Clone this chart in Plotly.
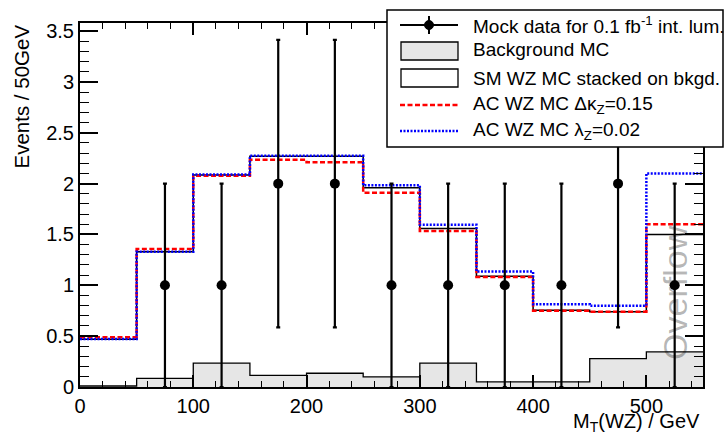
import math
import plotly.graph_objects as go

# Histogram binning in M_T(WZ) (GeV); the last bin holds the overflow
bin_edges = [0, 50, 100, 150, 200, 250, 300, 350, 400, 450, 500, 550]

# Events / 50 GeV per bin
background = [0.01, 0.085, 0.235, 0.115, 0.135, 0.10, 0.235, 0.05, 0.05, 0.28, 0.345]
sm_wz = [0.47, 1.33, 2.085, 2.27, 2.27, 1.96, 1.56, 1.09, 0.755, 0.74, 1.50]
ac_dkappa = [0.49, 1.357, 2.078, 2.235, 2.21, 1.91, 1.534, 1.082, 0.75, 0.74, 1.60]
ac_lambda = [0.472, 1.33, 2.09, 2.274, 2.274, 1.985, 1.595, 1.135, 0.815, 0.80, 2.10]
data_counts = [0, 1, 1, 2, 2, 1, 1, 1, 1, 2, 1]

x_ticks = [0, 100, 200, 300, 400, 500]
legend_labels = [
    "Mock data for 0.1 fb<sup>-1</sup> int. lum.",
    "Background MC",
    "SM WZ MC stacked on bkgd.",
    "AC WZ MC \u0394\u03ba<sub>Z</sub>=0.15",
    "AC WZ MC \u03bb<sub>Z</sub>=0.02",
]

W, H = 726, 434
L, R, T, B = 80, 23, 23, 47
X_MAX = 550
Y_MAX = 3.58
FONT = "Liberation Sans, Arial, Helvetica, sans-serif"


def px(x):
    """Pixel column -> paper x."""
    return (x - L) / (W - L - R)


def py(y):
    """Pixel row -> paper y."""
    return (H - B - y) / (H - T - B)


def step_y(vals):
    return list(vals) + [vals[-1]]


fig = go.Figure()

fig.add_trace(go.Scatter(
    x=bin_edges, y=step_y(background), mode="lines", line_shape="hv",
    line=dict(color="black", width=1.3), fill="tozeroy", fillcolor="#e6e6e6",
    hoverinfo="skip",
))
fig.add_trace(go.Scatter(
    x=bin_edges, y=step_y(sm_wz), mode="lines", line_shape="hv",
    line=dict(color="black", width=1.5), hoverinfo="skip",
))
fig.add_trace(go.Scatter(
    x=bin_edges, y=step_y(ac_dkappa), mode="lines", line_shape="hv",
    line=dict(color="#ff0000", width=2.5, dash="5px,2.5px"), hoverinfo="skip",
))
fig.add_trace(go.Scatter(
    x=bin_edges, y=step_y(ac_lambda), mode="lines", line_shape="hv",
    line=dict(color="#0000ff", width=2.5, dash="2px,1.5px"), hoverinfo="skip",
))

centers = [(a + b) / 2 for a, b in zip(bin_edges[:-1], bin_edges[1:])]
pts = [(c, n) for c, n in zip(centers, data_counts) if n > 0]
fig.add_trace(go.Scatter(
    x=[p[0] for p in pts], y=[p[1] for p in pts], mode="markers",
    marker=dict(color="black", size=10, symbol="circle"),
    error_y=dict(type="data", array=[math.sqrt(p[1]) for p in pts],
                 color="black", thickness=2.2, width=2),
    hoverinfo="skip",
))

axis_common = dict(
    showline=True, linecolor="black", linewidth=2, mirror="allticks",
    ticks="inside", tickcolor="black", showgrid=False, zeroline=False,
    tickfont=dict(family=FONT, size=20, color="black"),
)
fig.update_xaxes(
    range=[0, X_MAX], tickvals=x_ticks, ticklen=12, tickwidth=1.5,
    minor=dict(dtick=20, tick0=0, ticks="inside", ticklen=6, tickwidth=1.2,
               tickcolor="black"),
    **axis_common,
)
fig.update_yaxes(
    range=[0, Y_MAX], dtick=0.5, tick0=0, ticklen=18, tickwidth=1.5,
    minor=dict(dtick=0.1, tick0=0, ticks="inside", ticklen=9, tickwidth=1.2,
               tickcolor="black"),
    **axis_common,
)

shapes = []
annotations = []

# Legend box
shapes.append(dict(type="rect", xref="paper", yref="paper",
                   x0=px(387), x1=px(723), y0=py(147), y1=py(10),
                   fillcolor="white", line=dict(color="black", width=1.5),
                   layer="above"))
# data entry
shapes.append(dict(type="line", xref="paper", yref="paper",
                   x0=px(400), x1=px(458), y0=py(25), y1=py(25),
                   line=dict(color="black", width=2), layer="above"))
shapes.append(dict(type="line", xref="paper", yref="paper",
                   x0=px(429), x1=px(429), y0=py(16), y1=py(34),
                   line=dict(color="black", width=2), layer="above"))
shapes.append(dict(type="circle", xref="paper", yref="paper",
                   x0=px(424.5), x1=px(433.5), y0=py(29.5), y1=py(20.5),
                   fillcolor="black", line=dict(color="black", width=1),
                   layer="above"))
# background box
shapes.append(dict(type="rect", xref="paper", yref="paper",
                   x0=px(401), x1=px(458), y0=py(60), y1=py(42),
                   fillcolor="#e6e6e6", line=dict(color="black", width=1.3),
                   layer="above"))
# SM box
shapes.append(dict(type="rect", xref="paper", yref="paper",
                   x0=px(401), x1=px(458), y0=py(87), y1=py(69),
                   fillcolor="white", line=dict(color="black", width=1.3),
                   layer="above"))
# AC lines
shapes.append(dict(type="line", xref="paper", yref="paper",
                   x0=px(400), x1=px(458), y0=py(105), y1=py(105),
                   line=dict(color="#ff0000", width=2.5, dash="5px,2.5px"),
                   layer="above"))
shapes.append(dict(type="line", xref="paper", yref="paper",
                   x0=px(400), x1=px(458), y0=py(131), y1=py(131),
                   line=dict(color="#0000ff", width=2.5, dash="2px,1.5px"),
                   layer="above"))

for label, row_y in zip(legend_labels, [25, 50, 78, 105, 131]):
    annotations.append(dict(
        text=label, xref="paper", yref="paper", x=px(471), y=py(row_y),
        xanchor="left", yanchor="middle", showarrow=False,
        font=dict(family=FONT, size=19, color="black"),
    ))

# Overflow marker text in the last bin
annotations.append(dict(
    text="Overflow", xref="x", yref="y", x=525.7, y=0.93, textangle=-90,
    showarrow=False, xanchor="center", yanchor="middle",
    font=dict(family=FONT, size=34, color="rgba(0,0,0,0.29)"),
))

# Axis titles
annotations.append(dict(
    text="Events / 50GeV", xref="paper", yref="paper", x=px(21), y=py(96.5),
    textangle=-90, showarrow=False, xanchor="center", yanchor="middle",
    font=dict(family=FONT, size=20.5, color="black"),
))
annotations.append(dict(
    text="M<sub>T</sub>(WZ) / GeV", xref="paper", yref="paper", x=px(702),
    y=py(422), showarrow=False, xanchor="right", yanchor="middle",
    font=dict(family=FONT, size=20, color="black"),
))

fig.update_layout(
    width=W, height=H,
    margin=dict(l=L, r=R, t=T, b=B, pad=0),
    paper_bgcolor="white", plot_bgcolor="white",
    showlegend=False, shapes=shapes, annotations=annotations,
    font=dict(family=FONT, color="black"),
)

fig.write_html("out.html")
